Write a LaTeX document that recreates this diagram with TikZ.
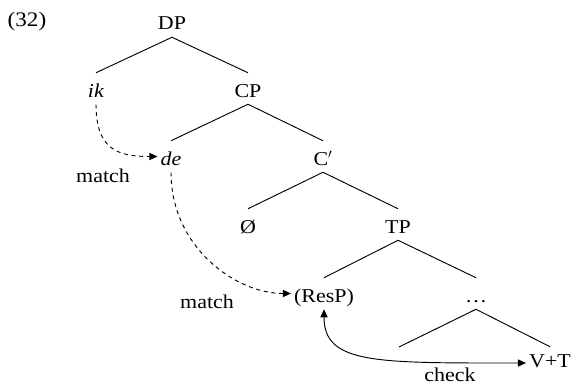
\documentclass[tikz,border=0pt]{standalone}
\usepackage{fontspec}
\setmainfont[FakeStretch=1.12]{Liberation Serif}
\usetikzlibrary{arrows.meta}

\tikzset{
  treefont/.style={font=\fontsize{14.7pt}{17pt}\selectfont},
  lbl/.style={treefont, anchor=base, inner xsep=2.25pt, inner ysep=0pt,
              text height=18pt, text depth=5.25pt},
  note/.style={treefont, anchor=base, inner sep=0pt},
  branch/.style={line width=0.7pt},
  matcharrow/.style={line width=0.7pt, dash pattern=on 3pt off 2.8pt, -{Triangle[length=6pt,width=5.4pt]}},
  checkarrow/.style={line width=0.7pt, {Triangle[length=6pt,width=5.4pt]}-{Triangle[length=6pt,width=5.4pt]}}
}

\begin{document}
\begin{tikzpicture}[x=0.75pt, y=-0.75pt]
  \useasboundingbox (0,0) rectangle (573,385);

  % example number
  \node[note, font=\fontsize{15.5pt}{18pt}\selectfont] (num) at (27,27) {(32)};

  % tree labels
  \node[lbl] (DP)   at (172,30)  {DP};
  \node[lbl] (ik)   at (96,97)   {\textit{ik}};
  \node[lbl] (CP)   at (248,97)  {CP};
  \node[lbl] (de)   at (171,165) {\textit{de}};
  \node[lbl] (Cbar) at (323,165) {C$'$};
  \node[lbl] (null) at (248,233) {Ø};
  \node[lbl] (TP)   at (398,233) {TP};
  \node[lbl] (ResP) at (324,302) {(ResP)};
  \node[lbl] (dots) at (476,302) {\ldots};
  \node[lbl, text height=15pt, text depth=9pt] (VT) at (550,367) {V+T};
  \coordinate (leftleaf) at (399,347);

  % branches
  \draw[branch] (DP.south) -- (ik.north);
  \draw[branch] (DP.south) -- (CP.north);
  \draw[branch] (CP.south) -- (de.north);
  \draw[branch] (CP.south) -- (Cbar.north);
  \draw[branch] (Cbar.south) -- (null.north);
  \draw[branch] (Cbar.south) -- (TP.north);
  \draw[branch] (TP.south) -- (ResP.north);
  \draw[branch] (TP.south) -- (dots.north);
  \draw[branch] (dots.south) -- (leftleaf);
  \draw[branch] (dots.south) -- (VT.north);

  % agreement relations
  \draw[matcharrow] (ik.south) .. controls +(0,45) and +(-40,0) .. (de.west);
  \draw[matcharrow] (de.south) .. controls +(0,75) and +(-55,0) .. (ResP.west);
  \draw[checkarrow] (ResP.south) .. controls +(0,55) and +(-150,0) .. (VT.west);

  % relation labels
  \node[note] (match1) at (103,182) {match};
  \node[note] (match2) at (207,308) {match};
  \node[note] (check)  at (450,381) {check};
\end{tikzpicture}
\end{document}
